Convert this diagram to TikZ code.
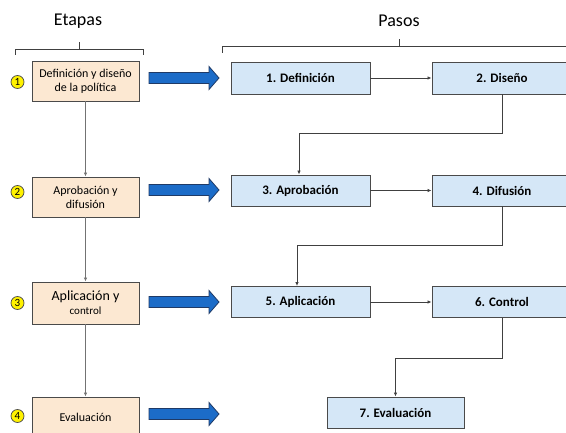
\documentclass[tikz,border=0pt]{standalone}
\usepackage{fontspec}
\setmainfont{Carlito}
\usetikzlibrary{arrows.meta}
\definecolor{peach}{HTML}{FCE8D2}
\definecolor{lblue}{HTML}{D5E7F7}
\definecolor{bord}{HTML}{4A4A4A}
\definecolor{arrfill}{HTML}{1C6CC8}
\definecolor{arrbord}{HTML}{1F3A66}
\tikzset{
  etapa/.style={draw=bord, line width=0.9pt, fill=peach, minimum width=107pt, minimum height=40pt, align=center, inner sep=1pt, font=\fontsize{12}{14}\selectfont},
  paso/.style={draw=bord, line width=0.9pt, fill=lblue, minimum width=139pt, minimum height=32pt, inner sep=1pt, font=\bfseries\fontsize{13}{15}\selectfont},
  num/.style={circle, draw=bord, line width=0.7pt, fill=yellow, minimum size=13pt, inner sep=0pt, font=\fontsize{11}{11}\selectfont},
  lconn/.style={draw=gray!90!black, line width=0.8pt, -{Latex[length=4pt,width=3.5pt]}},
  rconn/.style={draw=black!75, line width=0.8pt, -{Latex[length=4pt,width=3.5pt]}},
  bracket/.style={draw=black!75, line width=1pt},
  bigarrow/.style={fill=arrfill, draw=arrbord, line width=0.8pt},
  title/.style={font=\fontsize{18}{20}\selectfont}
}
\begin{document}
\begin{tikzpicture}[x=1pt,y=-1pt]
\useasboundingbox (0,0) rectangle (566,433);
\clip (0,0) rectangle (566,433);
% titles and brackets
\node[title] (etapas) at (78,21) {Etapas};
\node[title] (pasos) at (399,21) {Pasos};
\draw[bracket] (15,55) -- (15,50) -- (143,50) -- (143,55);
\draw[bracket] (79,50) -- (79,42);
\draw[bracket] (222,53) -- (222,47) -- (580,47);
\draw[bracket] (399,47) -- (399,39);
% left boxes
\node[etapa] (l1) at (85.5,81) {Definición y diseño\\de la política};
\node[etapa] (l2) at (85.5,197) {Aprobación y\\difusión};
\node[etapa, minimum height=42pt] (l3) at (85.5,303) {{\fontsize{14}{16}\selectfont Aplicación y}\\{\fontsize{11}{14}\selectfont control}};
\node[etapa] (l4) at (85.5,417) {Evaluación};
% numbers
\node[num] (c1) at (17.5,82) {1};
\node[num] (c2) at (17.5,192) {2};
\node[num] (c3) at (17.5,303) {3};
\node[num] (c4) at (17.5,416) {4};
% left connectors
\draw[lconn] (l1.south) -- (l2.north);
\draw[lconn] (l2.south) -- (l3.north);
\draw[lconn] (l3.south) -- (l4.north);
% big blue arrows
\foreach \y in {78,190,302,414}{
  \draw[bigarrow] (149,\y-5.5) -- (209,\y-5.5) -- (209,\y-11.5) -- (219,\y) -- (209,\y+11.5) -- (209,\y+5.5) -- (149,\y+5.5) -- cycle;
}
% right boxes
\node[paso] (r1) at (300.5,78) {1. Definición};
\node[paso, minimum width=140pt] (r2) at (502,78) {2. Diseño};
\node[paso, minimum height=31pt] (r3) at (300.5,190.5) {3. Aprobación};
\node[paso, minimum width=140pt, minimum height=31pt] (r4) at (502,190.5) {4. Difusión};
\node[paso, minimum height=31pt] (r5) at (300.5,302) {5. Aplicación};
\node[paso, minimum width=140pt, minimum height=31pt] (r6) at (502,302) {6. Control};
\node[paso, minimum width=137pt, minimum height=31pt] (r7) at (395.5,412.5) {7. Evaluación};
% right connectors
\draw[rconn] (r1.east) -- (r2.west);
\draw[rconn] (r3.east) -- (r4.west);
\draw[rconn] (r5.east) -- (r6.west);
\draw[rconn] (r2.south) -- ++(0,39) -| ([xshift=-1.5pt]r3.north);
\draw[rconn] (r4.south) -- ++(0,39) -| ([xshift=-3.5pt]r5.north);
\draw[rconn] (r6.south) -- ++(0,40) -| (r7.north);
\end{tikzpicture}
\end{document}
